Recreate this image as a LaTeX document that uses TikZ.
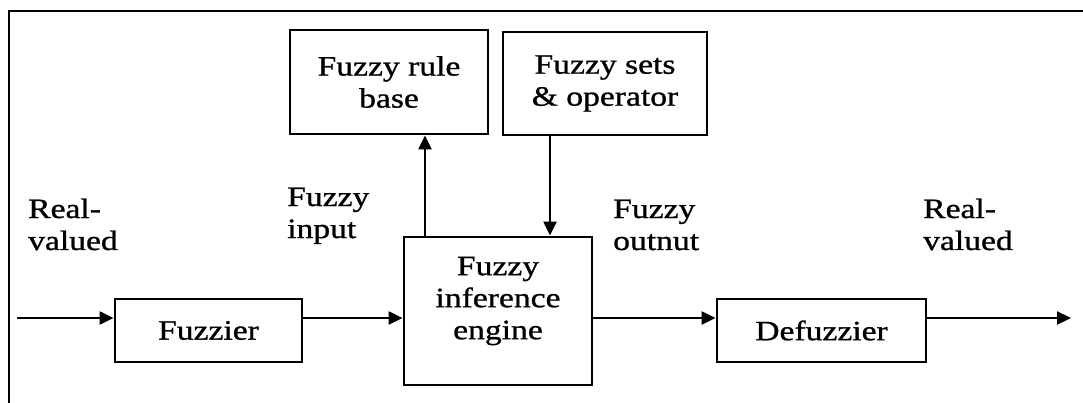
\documentclass[tikz,border=0pt]{standalone}
\usepackage{fontspec}
\setmainfont{Liberation Serif}[FakeStretch=1.2, FakeBold=1]
\usetikzlibrary{arrows.meta}

\tikzset{
  blk/.style={draw, line width=2.8pt, rectangle, inner sep=0pt, align=center,
              font=\fontsize{28}{32}\selectfont},
  arr/.style={line width=2.2pt, -{Triangle[length=14pt,width=13pt]}},
  lbl/.style={inner sep=0pt, anchor=base west, align=left,
              font=\fontsize{28}{32}\selectfont},
  frame/.style={line width=2.8pt}
}

\begin{document}
\begin{tikzpicture}[x=1pt, y=-1pt]
  \useasboundingbox (0,0) rectangle (1083,403);

  % enclosing frame (top and left edges)
  \draw[frame] (9,403) -- (9,11) -- (1090,11);

  % blocks
  \node[blk, minimum width=198pt, minimum height=104pt] (rule) at (389,82)
        {Fuzzy rule\\base};
  \node[blk, minimum width=204pt, minimum height=103pt] (sets) at (605,83.5)
        {Fuzzy sets\\\& operator};
  \node[blk, minimum width=188pt, minimum height=148pt, text depth=26pt] (inf) at (498,311)
        {Fuzzy\\inference\\engine};
  \node[blk, minimum width=187pt, minimum height=63pt] (fuz) at (208.5,330.5)
        {Fuzzier};
  \node[blk, minimum width=209pt, minimum height=63pt] (defuz) at (821.5,330.5)
        {Defuzzier};

  % free ends and connector positions
  \coordinate (in)  at (17,318);
  \coordinate (out) at (1071,318);
  \coordinate (upx) at (425,0);
  \coordinate (dnx) at (550,0);

  % connectors
  \draw[arr] (in) -- (in -| fuz.west);
  \draw[arr] (fuz.east |- in) -- (inf.west |- in);
  \draw[arr] (upx |- inf.north) -- (upx |- rule.south);
  \draw[arr] (dnx |- sets.south) -- (dnx |- inf.north);
  \draw[arr] (inf.east |- in) -- (defuz.west |- in);
  \draw[arr] (defuz.east |- out) -- (out);

  % signal labels
  \node[lbl] (l1) at (28,250)  {Real-\\valued};
  \node[lbl] (l2) at (287,238) {Fuzzy\\input};
  \node[lbl] (l3) at (613,250) {Fuzzy\\outnut};
  \node[lbl] (l4) at (923,250) {Real-\\valued};
\end{tikzpicture}
\end{document}
